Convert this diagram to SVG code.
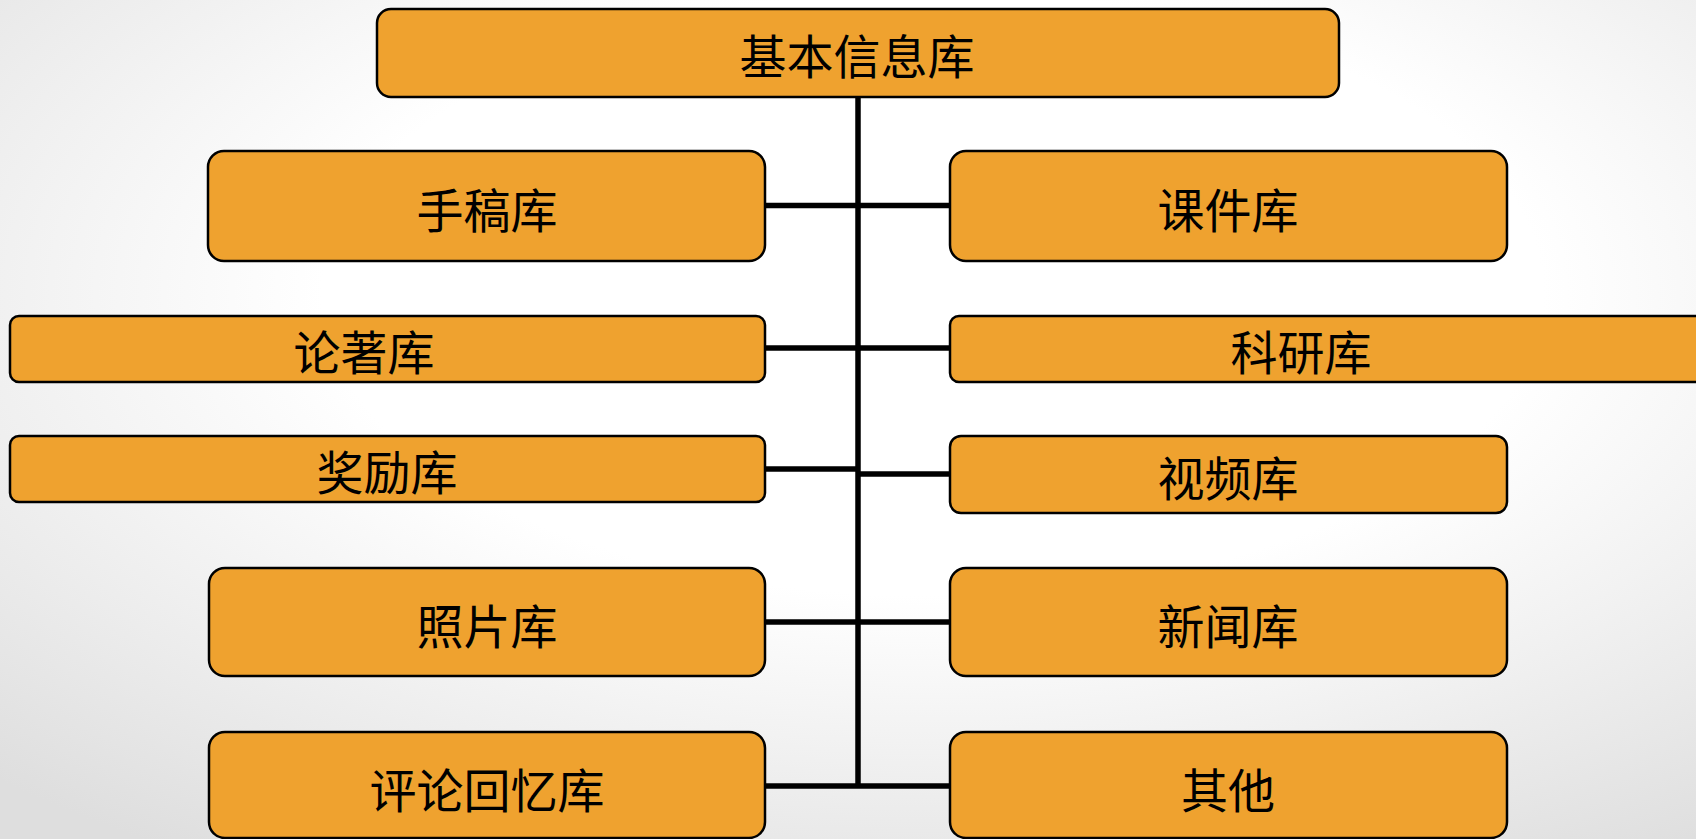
<svg xmlns="http://www.w3.org/2000/svg" width="1696" height="839" viewBox="0 0 1696 839">
<defs>
<radialGradient id="bg" cx="55%" cy="35%" r="80%">
<stop offset="0.45" stop-color="#ffffff"/>
<stop offset="1" stop-color="#dedede"/>
</radialGradient>
<style>
.box{fill:#EFA22F;stroke:#000;stroke-width:2.5}
.lbl{font-family:"Noto Sans CJK SC","Noto Sans CJK JP",sans-serif;font-size:47px;fill:#000;text-anchor:middle;dominant-baseline:central}
.con{stroke:#000;stroke-width:5.5;fill:none}
</style>
</defs>
<rect width="1696" height="839" fill="url(#bg)"/>
<g id="connectors">
<line class="con" x1="858" y1="97" x2="858" y2="788"/>
<line class="con" x1="765" y1="205.5" x2="950" y2="205.5"/>
<line class="con" x1="765" y1="348" x2="950" y2="348"/>
<line class="con" x1="765" y1="469" x2="858" y2="469"/>
<line class="con" x1="858" y1="474" x2="950" y2="474"/>
<line class="con" x1="765" y1="622" x2="950" y2="622"/>
<line class="con" x1="765" y1="786" x2="950" y2="786"/>
</g>
<g id="n-root"><rect class="box" x="377" y="9" width="962" height="88" rx="14"/><text class="lbl" x="857" y="53">基本信息库</text></g>
<g id="n-shougao"><rect class="box" x="208" y="151" width="557" height="110" rx="16"/><text class="lbl" x="487" y="207">手稿库</text></g>
<g id="n-kejian"><rect class="box" x="950" y="151" width="557" height="110" rx="16"/><text class="lbl" x="1228" y="207">课件库</text></g>
<g id="n-lunzhu"><rect class="box" x="10" y="316" width="755" height="66" rx="9"/><text class="lbl" x="364" y="349">论著库</text></g>
<g id="n-keyan"><rect class="box" x="950" y="316" width="760" height="66" rx="9"/><text class="lbl" x="1301" y="349">科研库</text></g>
<g id="n-jiangli"><rect class="box" x="10" y="436" width="755" height="66" rx="9"/><text class="lbl" x="387" y="469">奖励库</text></g>
<g id="n-shipin"><rect class="box" x="950" y="436" width="557" height="77" rx="11"/><text class="lbl" x="1228" y="475">视频库</text></g>
<g id="n-zhaopian"><rect class="box" x="209" y="568" width="556" height="108" rx="16"/><text class="lbl" x="487" y="623">照片库</text></g>
<g id="n-xinwen"><rect class="box" x="950" y="568" width="557" height="108" rx="16"/><text class="lbl" x="1228" y="623">新闻库</text></g>
<g id="n-pinglun"><rect class="box" x="209" y="732" width="556" height="106" rx="16"/><text class="lbl" x="487" y="787">评论回忆库</text></g>
<g id="n-qita"><rect class="box" x="950" y="732" width="557" height="106" rx="16"/><text class="lbl" x="1228" y="787">其他</text></g>
</svg>
